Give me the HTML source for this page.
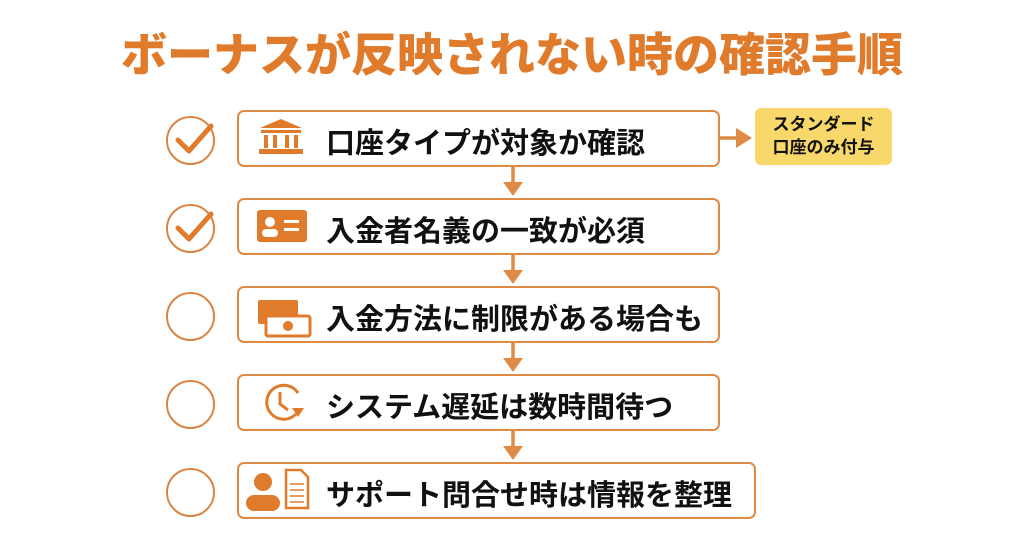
<!DOCTYPE html>
<html><head><meta charset="utf-8"><style>
body{margin:0;width:1024px;height:541px;background:#fff;position:relative;overflow:hidden;font-family:"Liberation Sans","Noto Sans CJK JP",sans-serif}
.t{position:absolute;left:0;width:1024px;top:30px;text-align:center;font-size:46px;font-weight:900;color:#e07b2c;line-height:50px}
.b{position:absolute;left:237px;width:479px;height:53px;border:2.5px solid #df8a45;border-radius:7px;box-sizing:content-box}
.b span{position:absolute;left:87px;top:8px;font-size:29px;font-weight:700;color:#111;white-space:nowrap}
.c{position:absolute;left:166px;width:45px;height:45px;border:2.5px solid #d98545;border-radius:50%}
.y{position:absolute;left:755px;top:108px;width:137px;height:57px;background:#f8d86a;border-radius:6px;text-align:center;font-size:17px;font-weight:700;line-height:23px;padding-top:5px;box-sizing:border-box;color:#111}
svg{position:absolute;left:0;top:0}
</style></head><body>
<div class="t">ボーナスが反映されない時の確認手順</div>
<div class="c" style="top:116px"></div>
<div class="c" style="top:204px"></div>
<div class="c" style="top:292px"></div>
<div class="c" style="top:380px"></div>
<div class="c" style="top:468px"></div>
<div class="b" style="top:110px"><span>口座タイプが対象か確認</span></div>
<div class="b" style="top:198px"><span>入金者名義の一致が必須</span></div>
<div class="b" style="top:286px"><span>入金方法に制限がある場合も</span></div>
<div class="b" style="top:374px"><span>システム遅延は数時間待つ</span></div>
<div class="b" style="top:462px;width:515px"><span>サポート問合せ時は情報を整理</span></div>
<div class="y">スタンダード<br>口座のみ付与</div>
<svg width="1024" height="541">
<g stroke="#e07b2c" stroke-width="5" fill="none" stroke-linecap="round" stroke-linejoin="round">
<path d="M178 140 L189 151 L211 126"/><path d="M178 228 L189 239 L211 214"/>
</g>
<g stroke="#df8a45" stroke-width="3.5" fill="#df8a45">
<line x1="513" y1="166" x2="513" y2="184"/><polygon points="503,182 523,182 513,196" stroke="none"/>
<line x1="513" y1="254" x2="513" y2="272"/><polygon points="503,270 523,270 513,284" stroke="none"/>
<line x1="513" y1="342" x2="513" y2="360"/><polygon points="503,358 523,358 513,372" stroke="none"/>
<line x1="513" y1="430" x2="513" y2="448"/><polygon points="503,446 523,446 513,460" stroke="none"/>
<line x1="719" y1="138" x2="738" y2="138"/><polygon points="736,128 736,148 752,138" stroke="none"/>
</g>
<g fill="#e07b2c">
<polygon points="260,128 281,119 302,128"/><rect x="261" y="130" width="40" height="3"/>
<rect x="264" y="135" width="4" height="13"/><rect x="273" y="135" width="4" height="13"/><rect x="285" y="135" width="4" height="13"/><rect x="294" y="135" width="4" height="13"/>
<rect x="259" y="149" width="44" height="5"/>
<rect x="257" y="210" width="50" height="32" rx="3"/>
<rect x="258" y="300" width="40" height="24" rx="2"/><rect x="266" y="316" width="44" height="20" rx="2" fill="#fff" stroke="#e07b2c" stroke-width="3"/>
<circle cx="288" cy="326" r="5"/>
<rect x="246" y="495" width="34" height="16" rx="8"/><circle cx="263" cy="482" r="9"/>
</g>
<g fill="#fff"><circle cx="270" cy="222" r="5"/><rect x="262" y="229" width="16" height="8" rx="4"/><rect x="284" y="220" width="15" height="3"/><rect x="284" y="228" width="15" height="3"/></g>
<g stroke="#e07b2c" stroke-width="3" fill="none">
<path d="M298 393 A17 17 0 1 0 296 414"/><path d="M280 392 L280 404 L288 410"/>
<path d="M286 470 L301 470 L308 477 L308 508 L286 508 Z" stroke-width="2.5"/>
<path d="M290 484h14M290 490h14M290 496h14M290 502h14" stroke-width="1.5"/>
</g>
<polygon points="292,408 304,408 298,417" fill="#e07b2c"/>
</svg>
</body></html>
